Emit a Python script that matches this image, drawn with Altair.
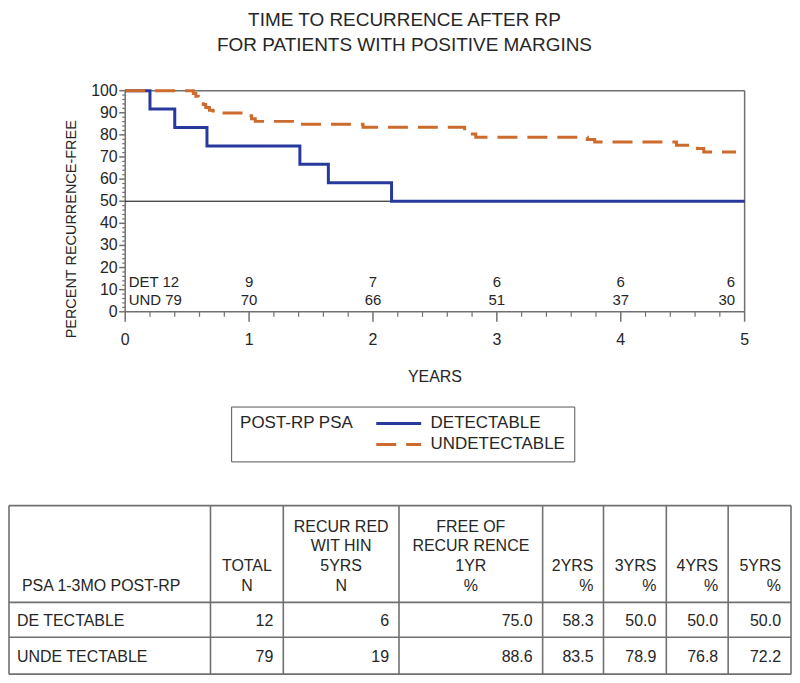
import altair as alt
import pandas as pd

# ---------------- data ----------------
groups = ["DETECTABLE", "UNDETECTABLE"]

det_years = [0, 0.20, 0.40, 0.66, 1.41, 1.64, 2.15, 5.00]
det_pct = [100, 91.7, 83.3, 75.0, 66.7, 58.3, 50.0, 50.0]

und_years = [0, 0.55, 0.57, 0.59, 0.61, 0.63, 0.65, 0.68, 0.71, 0.95, 1.02, 1.05,
             1.38, 1.92, 2.74, 2.78, 2.83, 3.73, 3.79, 4.45, 4.62, 4.67, 4.93]
und_pct = [100, 98.7, 97.5, 96.2, 94.9, 93.7, 92.4, 91.1, 89.9, 88.6, 87.3, 86.1,
           84.8, 83.5, 82.0, 80.4, 78.9, 77.9, 76.8, 75.3, 73.8, 72.2, 72.2]

reference_pct = 50

risk_years = [0, 1, 2, 3, 4, 5]
risk_det = [12, 9, 7, 6, 6, 6]
risk_und = [79, 70, 66, 51, 37, 30]
risk_prefix = ["DET", "UND"]

x_ticks = [0, 1, 2, 3, 4, 5]
x_minor = [0.2, 0.4, 0.6, 0.8, 1.2, 1.4, 1.6, 1.8, 2.2, 2.4, 2.6, 2.8,
           3.2, 3.4, 3.6, 3.8, 4.2, 4.4, 4.6, 4.8]
y_ticks = [0, 10, 20, 30, 40, 50, 60, 70, 80, 90, 100]
y_minor = [2, 4, 6, 8, 12, 14, 16, 18, 22, 24, 26, 28, 32, 34, 36, 38, 42, 44, 46, 48,
           52, 54, 56, 58, 62, 64, 66, 68, 72, 74, 76, 78, 82, 84, 86, 88, 92, 94, 96, 98]

x_title = "YEARS"
y_title = "PERCENT RECURRENCE-FREE"
legend_title = "POST-RP PSA"

table_header = ["PSA 1-3MO POST-RP", "TOTAL\nN", "RECUR RED\nWIT HIN\n5YRS\nN",
                "FREE OF\nRECUR RENCE\n1YR\n%", "2YRS\n%", "3YRS\n%", "4YRS\n%", "5YRS\n%"]
table_rows = ["DE TECTABLE", "UNDE TECTABLE"]
total_n = [12, 79]
recurred_5y = [6, 19]
free_1y = [75.0, 88.6]
free_2y = [58.3, 83.5]
free_3y = [50.0, 78.9]
free_4y = [50.0, 76.8]
free_5y = [50.0, 72.2]

title_lines = ["TIME TO RECURRENCE AFTER RP", "FOR PATIENTS WITH POSITIVE MARGINS"]

# ---------------- layout / style ----------------
FONT = "Liberation Sans"
BLUE = "#27399d"
ORANGE = "#cd6a2d"
GRAY = "#707070"
TXT = "#262626"

W, H = 785, 602
PLOT_L, PLOT_R, PLOT_T, PLOT_B = 116.5, 737.5, 16.0, 237.7
RISK_ROW_Y = [207.7, 225.5]
XLABEL_Y = PLOT_B + 28.5
XTITLE_Y = 303
YTITLE_X, YTITLE_Y = 62.7, 155

COL_EDGES = [0, 202, 275, 391, 535, 596, 659, 721, 784]
ROW_EDGES = [432, 529, 564, 601]
HEADER_LAST_Y = 513
HEADER_LINE = 20
BODY_Y = [547.5, 583.5]
HDR_ALIGN = ["left", "center", "center", "center", "right", "right", "right", "right"]
BODY_ALIGN = ["left"] + ["right"] * 7

xs = alt.Scale(domain=[0, 5], range=[PLOT_L, PLOT_R], nice=False, zero=False)
ys = alt.Scale(domain=[0, 100], range=[PLOT_B, PLOT_T], nice=False, zero=False)

one = pd.DataFrame({"k": [0]})

# ---------------- KM curves ----------------
km_df = pd.concat([
    pd.DataFrame({"group": groups[0], "years": det_years, "pct": det_pct}),
    pd.DataFrame({"group": groups[1], "years": und_years, "pct": und_pct}),
], ignore_index=True)

legend = alt.Legend(
    orient="none", legendX=222.7, legendY=332.7, direction="vertical",
    title=legend_title, titleOrient="left", titleAnchor="start", titleBaseline="top",
    titleFont=FONT, titleFontSize=17, titleFontWeight="normal", titleColor=TXT, titlePadding=21,
    labelFont=FONT, labelFontSize=17, labelColor=TXT, labelOffset=8, labelLimit=0,
    symbolType="stroke", symbolSize=2025, symbolStrokeWidth=3, clipHeight=16,
    strokeColor="#555555", fillColor="white", padding=9, rowPadding=4,
)

lines = alt.Chart(km_df).mark_line(interpolate="step-after", strokeWidth=3, strokeCap="butt").encode(
    x=alt.X("years:Q", scale=xs, axis=None),
    y=alt.Y("pct:Q", scale=ys, axis=None),
    color=alt.Color("group:N", scale=alt.Scale(domain=groups, range=[BLUE, ORANGE]), legend=legend),
    strokeDash=alt.StrokeDash("group:N", scale=alt.Scale(domain=groups, range=[[1, 0], [20, 10]]),
                              legend=legend),
)

ref_line = alt.Chart(one).mark_rule(color="black", strokeWidth=1).encode(
    x=alt.XDatum(0, scale=xs, axis=None), x2=alt.X2Datum(5),
    y=alt.YDatum(reference_pct, scale=ys, axis=None))

frame_top = alt.Chart(one).mark_rule(color=GRAY, strokeWidth=1.5).encode(
    x=alt.XDatum(0, scale=xs, axis=None), x2=alt.X2Datum(5),
    y=alt.YDatum(100, scale=ys, axis=None))
frame_right = alt.Chart(one).mark_rule(color=GRAY, strokeWidth=1.5).encode(
    x=alt.XDatum(5, scale=xs, axis=None),
    y=alt.YDatum(0, scale=ys, axis=None), y2=alt.Y2Datum(100))

# axes drawn through the scales
x_domain = alt.Chart(one).mark_rule(color=GRAY, strokeWidth=1.5).encode(
    x=alt.XDatum(0, scale=xs, axis=None), x2=alt.X2Datum(5),
    y=alt.YDatum(0, scale=ys, axis=None))
y_domain = alt.Chart(one).mark_rule(color=GRAY, strokeWidth=1.5).encode(
    x=alt.XDatum(0, scale=xs, axis=None),
    y=alt.YDatum(0, scale=ys, axis=None), y2=alt.Y2Datum(100))

xt_df = pd.DataFrame({"v": x_ticks, "label": [str(v) for v in x_ticks]})
yt_df = pd.DataFrame({"v": y_ticks, "label": [str(v) for v in y_ticks]})

x_major = alt.Chart(xt_df).mark_rule(color=GRAY, strokeWidth=1.5).encode(
    x=alt.X("v:Q", scale=xs, axis=None), y=alt.value(PLOT_B), y2=alt.value(PLOT_B + 10))
x_minor_r = alt.Chart(pd.DataFrame({"v": x_minor})).mark_rule(color=GRAY, strokeWidth=1.2).encode(
    x=alt.X("v:Q", scale=xs, axis=None), y=alt.value(PLOT_B), y2=alt.value(PLOT_B + 5))
x_labels = alt.Chart(xt_df).mark_text(font=FONT, fontSize=16, color=TXT, baseline="middle").encode(
    x=alt.X("v:Q", scale=xs, axis=None), y=alt.value(XLABEL_Y), text="label:N")

y_major = alt.Chart(yt_df).mark_rule(color=GRAY, strokeWidth=1.5).encode(
    y=alt.Y("v:Q", scale=ys, axis=None), x=alt.value(PLOT_L - 6), x2=alt.value(PLOT_L))
y_minor_r = alt.Chart(pd.DataFrame({"v": y_minor})).mark_rule(color=GRAY, strokeWidth=1.2).encode(
    y=alt.Y("v:Q", scale=ys, axis=None), x=alt.value(PLOT_L - 3), x2=alt.value(PLOT_L))
y_labels = alt.Chart(yt_df).mark_text(font=FONT, fontSize=16, color=TXT, baseline="middle",
                                      align="right").encode(
    y=alt.Y("v:Q", scale=ys, axis=None), x=alt.value(PLOT_L - 7.5), text="label:N")

x_title_t = alt.Chart(pd.DataFrame({"t": [x_title]})).mark_text(
    font=FONT, fontSize=16, color=TXT, baseline="middle").encode(
    x=alt.XDatum(2.5, scale=xs, axis=None), y=alt.value(XTITLE_Y), text="t:N")
y_title_t = alt.Chart(pd.DataFrame({"t": [y_title]})).mark_text(
    font=FONT, fontSize=14.5, color=TXT, baseline="middle", angle=270).encode(
    x=alt.value(YTITLE_X), y=alt.value(YTITLE_Y), text="t:N")

# at-risk numbers
risk_layers = []
for r, counts in enumerate([risk_det, risk_und]):
    labels = [f"{risk_prefix[r]} {c}" if i == 0 else str(c) for i, c in enumerate(counts)]
    rdf = pd.DataFrame({"years": risk_years, "label": labels})
    for al, cond, dx in [("left", rdf["years"] == risk_years[0], 3.5),
                         ("center", (rdf["years"] > risk_years[0]) & (rdf["years"] < risk_years[-1]), 0),
                         ("right", rdf["years"] == risk_years[-1], -9.5)]:
        risk_layers.append(
            alt.Chart(rdf[cond]).mark_text(align=al, baseline="middle", dx=dx, font=FONT,
                                           fontSize=15, color=TXT).encode(
                x=alt.X("years:Q", scale=xs, axis=None),
                y=alt.value(RISK_ROW_Y[r]),
                text="label:N"))

km = alt.layer(x_minor_r, y_minor_r, x_major, y_major, x_domain, y_domain, frame_top, frame_right,
               ref_line, lines, x_labels, y_labels, x_title_t, y_title_t, *risk_layers)

# ---------------- table ----------------
tx = alt.Scale(domain=[0, W], range=[0, W], nice=False, zero=False)
ty = alt.Scale(domain=[0, H], range=[0, H], nice=False, zero=False)


def anchor(col, al, pad):
    left, right = COL_EDGES[col], COL_EDGES[col + 1]
    if al == "left":
        return left + pad
    if al == "right":
        return right - 10
    return (left + right) / 2


cells = []
for c, h in enumerate(table_header):
    parts = h.split("\n")
    n = len(parts)
    for k, part in enumerate(parts):
        cells.append({"xa": anchor(c, HDR_ALIGN[c], 13),
                      "ya": HEADER_LAST_Y - (n - 1 - k) * HEADER_LINE,
                      "txt": part, "al": HDR_ALIGN[c]})
for r, name in enumerate(table_rows):
    vals = [name, str(total_n[r]), str(recurred_5y[r]), f"{free_1y[r]:.1f}", f"{free_2y[r]:.1f}",
            f"{free_3y[r]:.1f}", f"{free_4y[r]:.1f}", f"{free_5y[r]:.1f}"]
    for c, v in enumerate(vals):
        cells.append({"xa": anchor(c, BODY_ALIGN[c], 8), "ya": BODY_Y[r], "txt": v,
                      "al": BODY_ALIGN[c]})
cells_df = pd.DataFrame(cells)

vrules = pd.DataFrame({"x": COL_EDGES, "y1": ROW_EDGES[0], "y2": ROW_EDGES[-1]})
hrules = pd.DataFrame({"y": ROW_EDGES, "x1": COL_EDGES[0], "x2": COL_EDGES[-1]})

t_v = alt.Chart(vrules).mark_rule(color=GRAY, strokeWidth=1.6).encode(
    x=alt.X("x:Q", scale=tx, axis=None), y=alt.Y("y1:Q", scale=ty, axis=None), y2="y2:Q")
t_h = alt.Chart(hrules).mark_rule(color=GRAY, strokeWidth=1.6).encode(
    y=alt.Y("y:Q", scale=ty, axis=None), x=alt.X("x1:Q", scale=tx, axis=None), x2="x2:Q")

text_layers = []
for al in ["left", "center", "right"]:
    sub = cells_df[cells_df["al"] == al]
    text_layers.append(
        alt.Chart(sub).mark_text(align=al, baseline="middle", font=FONT, fontSize=16,
                                 color=TXT).encode(
            x=alt.X("xa:Q", scale=tx, axis=None),
            y=alt.Y("ya:Q", scale=ty, axis=None),
            text="txt:N"))

table = alt.layer(t_v, t_h, *text_layers)

chart = alt.layer(km, table).resolve_scale(x="independent", y="independent").properties(
    width=W, height=H,
    autosize=alt.AutoSizeParams(type="none"),
    padding={"left": 1, "top": 66, "right": 0, "bottom": 0},
    title=alt.Title(text=title_lines, font=FONT, fontSize=19, fontWeight="normal", color=TXT,
                    anchor="middle", frame="group", offset=20, lineHeight=25, dx=4),
).configure_view(stroke=None)

chart.save("out.html", embed_options={"renderer": "svg", "actions": False})
